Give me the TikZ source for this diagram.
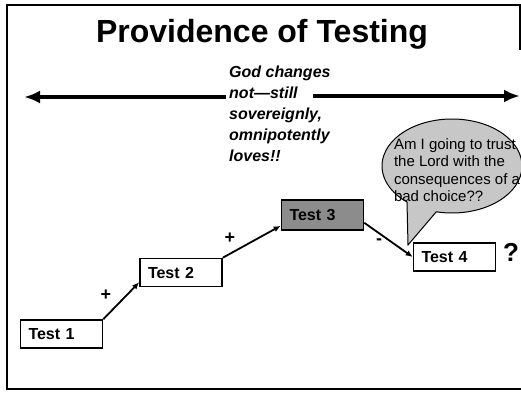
\documentclass[tikz,border=0pt]{standalone}
\usepackage{fontspec}
\setmainfont{Liberation Sans}
\usetikzlibrary{arrows.meta,calc}

\begin{document}
\begin{tikzpicture}[x=1pt,y=1pt,
		testbox/.style={draw,line width=1.6pt,minimum width=82pt,minimum height=28pt,text width=66pt,align=left,inner xsep=8pt,inner ysep=0pt,font=\fontsize{16}{18}\selectfont\bfseries},
		steparrow/.style={line width=1.8pt,-{Latex[length=7pt,width=6pt]}},
		bigarrow/.style={line width=4pt,-{Latex[length=16pt,width=13pt]}},
		sign/.style={font=\fontsize{18}{18}\selectfont\bfseries},
		bubble/.style={draw,line width=1pt,fill=black!22}]
			\useasboundingbox (0,0) rectangle (521,392);
			\draw[line width=2.5pt] (521,387) -- (7,387) -- (7,3) -- (521,3);
			\draw[line width=1.2pt] (520,387) -- (520,342);
			\node[font=\fontsize{32}{36}\selectfont\bfseries,anchor=base] (title) at (262,349) {Providence of Testing};
			\node[anchor=north west,inner sep=0pt,align=left,font=\fontsize{16}{21}\selectfont\bfseries\itshape] (god) at (229,326) {God changes\\not—still\\sovereignly,\\omnipotently\\loves!!};
			\coordinate (leftend) at (24,295);
			\coordinate (rightstart) at (313,296);
			\coordinate (rightend) at (520,296);
			\draw[bigarrow] ([xshift=-3pt]god.west |- leftend) -- (leftend);
			\draw[bigarrow] (rightstart) -- (rightend);
			\coordinate (bubc) at (452,226);
			\coordinate (tip) at (408,147);
			\draw[bubble] (tip) -- ($(bubc)+(257:70 and 47)$) arc[start angle=257,end angle=590,x radius=70,y radius=47] -- cycle;
			\node[font=\fontsize{15}{17.5}\selectfont,align=left] (question) at (457,222) {Am I going to trust\\the Lord with the\\consequences of a\\bad choice??};
			\node[testbox] (test1) at (61.5,58) {Test 1};
			\node[testbox] (test2) at (181,119.5) {Test 2};
			\node[testbox,fill=black!45,minimum height=30pt] (test3) at (322.5,177) {Test 3};
			\node[testbox] (test4) at (454.5,135) {Test 4};
			\draw[steparrow] (test1.north east) -- ([yshift=5pt]test2.south west);
			\draw[steparrow] (test2.north east) -- ([yshift=5pt]test3.south west);
			\draw[steparrow] ([yshift=8pt]test3.south east) -- (test4.west);
			\node[sign] (plus1) at (106,97) {+};
			\node[sign] (plus2) at (230,154) {+};
			\node[sign] (minus) at (379,150) {-};
			\node[font=\fontsize{26}{26}\selectfont\bfseries] (unknown) at (511,140) {?};
		\end{tikzpicture}
\end{document}
